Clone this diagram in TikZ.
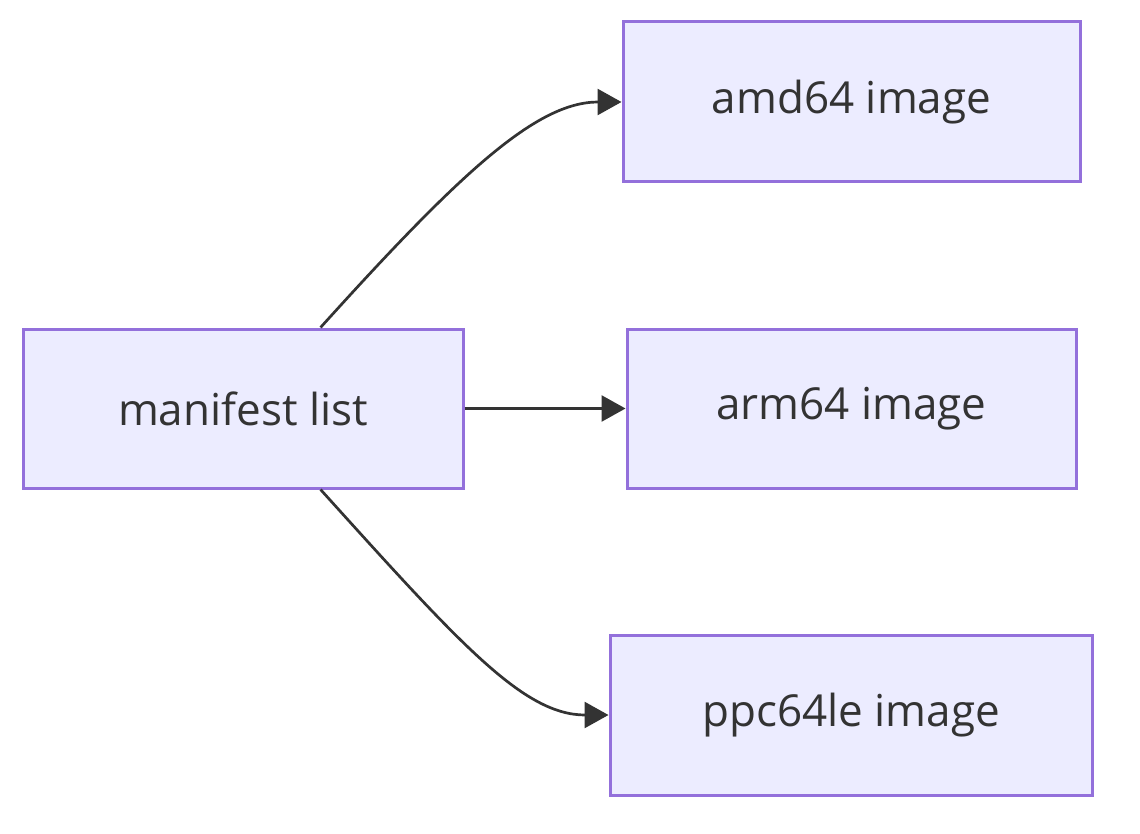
\documentclass[tikz,border=0pt]{standalone}
\usepackage{fontspec}
\setmainfont{Open Sans}
\usepackage{tikz}
\usetikzlibrary{arrows.meta,calc}
\definecolor{boxfill}{HTML}{ECECFF}
\definecolor{boxline}{HTML}{9370DB}
\definecolor{darkline}{HTML}{333333}
\tikzstyle{Ibox}=[shape=rectangle,draw=boxline,fill=boxfill,line width=3pt,text=darkline,font=\fontsize{44}{50}\selectfont,inner sep=0pt]
\tikzstyle{flowedge}=[-{Triangle[length=24pt,width=26pt]},draw=darkline,line width=2.7pt]

\begin{document}
\begin{tikzpicture}[x=1pt,y=-1pt]
\useasboundingbox (0,0) rectangle (1140,834);

\node[Ibox,minimum width=440pt,minimum height=159pt] (LIST) at (243,408.5){manifest list};

\node[Ibox,minimum width=457pt,minimum height=160pt] (AMD) at (851.5,102){amd64 image};

\node[Ibox,minimum width=449pt,minimum height=159pt] (ARM) at (851.5,408.5){arm64 image};

\node[Ibox,minimum width=482pt,minimum height=160pt] (PPC) at (851,715){ppc64le image};

\coordinate (LTOP) at ($(LIST.north west)!0.675!(LIST.north east)$);
\coordinate (LBOT) at ($(LIST.south west)!0.675!(LIST.south east)$);

\draw[flowedge] (LTOP) .. controls +(140,-155) and +(-85,0) .. (AMD.west);
\path (LIST) edge [flowedge] (ARM);
\draw[flowedge] (LBOT) .. controls +(140,155) and +(-85,0) .. (PPC.west);

\end{tikzpicture}
\end{document}
